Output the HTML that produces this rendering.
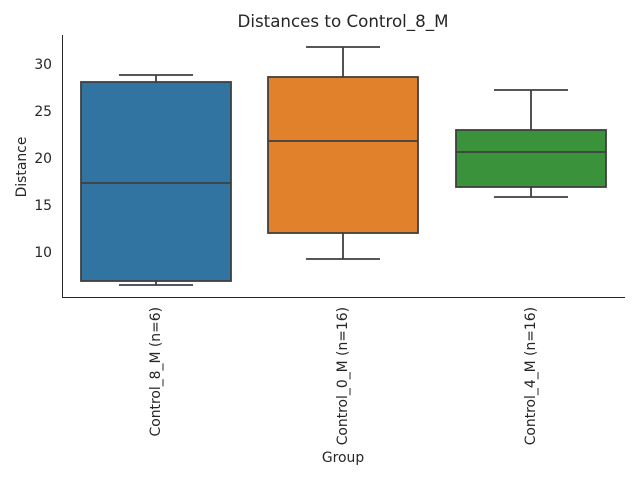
<!DOCTYPE html>
<html><head><style>body{margin:0;background:#fff}</style></head><body>
<svg width="640" height="480" xmlns="http://www.w3.org/2000/svg" font-family="DejaVu Sans, Liberation Sans, sans-serif" fill="#262626">
<rect width="640" height="480" fill="#fff"/>
<g stroke="#3f3f3f" stroke-width="1.8">
<line x1="156" y1="75" x2="156" y2="82"/><line x1="119" y1="75" x2="193" y2="75"/>
<line x1="156" y1="281" x2="156" y2="285"/><line x1="119" y1="285" x2="193" y2="285"/>
<rect x="81" y="82" width="150" height="199" fill="#3274a1"/>
<line x1="81" y1="183" x2="231" y2="183"/>
<line x1="343" y1="47" x2="343" y2="77"/><line x1="306" y1="47" x2="380" y2="47"/>
<line x1="343" y1="233" x2="343" y2="259"/><line x1="306" y1="259" x2="380" y2="259"/>
<rect x="268" y="77" width="150" height="156" fill="#e1812c"/>
<line x1="268" y1="141" x2="418" y2="141"/>
<line x1="531" y1="90" x2="531" y2="130"/><line x1="494" y1="90" x2="568" y2="90"/>
<line x1="531" y1="187" x2="531" y2="197"/><line x1="494" y1="197" x2="568" y2="197"/>
<rect x="456" y="130" width="150" height="57" fill="#3a923a"/>
<line x1="456" y1="152" x2="606" y2="152"/>
</g>
<g stroke="#262626" stroke-width="1">
<line x1="62.5" y1="35" x2="62.5" y2="297.5"/><line x1="62" y1="297.5" x2="625" y2="297.5"/>
</g>
<g font-size="13.9" text-anchor="end">
<text x="52" y="69">30</text><text x="52" y="116">25</text><text x="52" y="163">20</text><text x="52" y="210">15</text><text x="52" y="257">10</text>
</g>
<g font-size="13.9" text-anchor="end">
<text transform="translate(160,307) rotate(-90)">Control_8_M (n=6)</text>
<text transform="translate(347,307) rotate(-90)">Control_0_M (n=16)</text>
<text transform="translate(535,307) rotate(-90)">Control_4_M (n=16)</text>
</g>
<text x="343" y="462" font-size="13.9" text-anchor="middle">Group</text>
<text transform="translate(26,167) rotate(-90)" font-size="13.9" text-anchor="middle">Distance</text>
<text x="343" y="27" font-size="16.7" text-anchor="middle">Distances to Control_8_M</text>
</svg>
</body></html>
